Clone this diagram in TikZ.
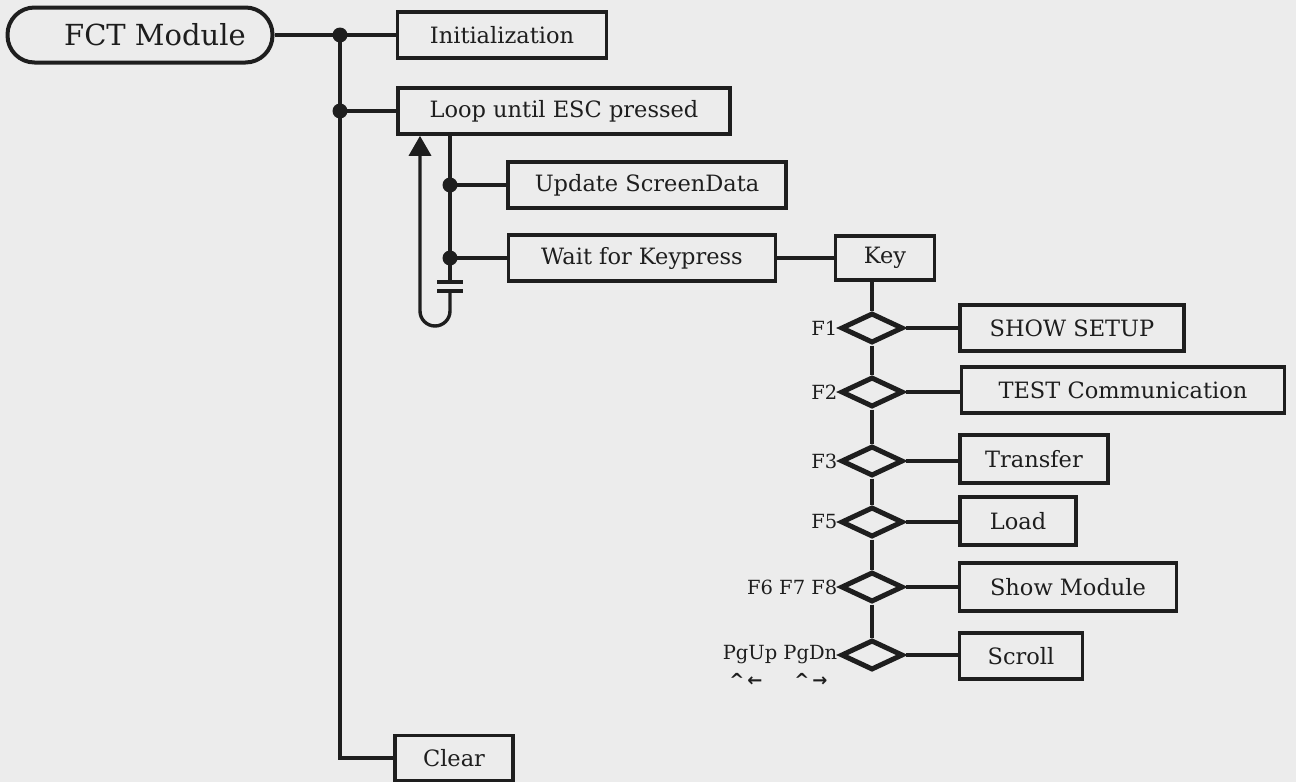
\documentclass[tikz,border=0pt]{standalone}
\usepackage{fontspec}
\setmainfont{DejaVu Serif}
\newfontfamily\symfnt{DejaVu Sans}
\usetikzlibrary{arrows.meta,shapes.geometric}
\definecolor{bgcol}{RGB}{236,236,236}
\definecolor{ink}{RGB}{30,30,30}
\begin{document}
\begin{tikzpicture}[x=1pt,y=-1pt,
  bx/.style={draw=ink,line width=3.6pt,inner sep=0pt,minimum height=46pt,text=ink,font=\fontsize{22.5}{26}\selectfont},
  dia/.style={draw=ink,diamond,line width=5pt,inner sep=0pt,minimum width=62pt,minimum height=30pt},
  ln/.style={draw=ink,line width=3.4pt},
  dot/.style={circle,fill=ink,inner sep=0pt,minimum size=15pt},
  flab/.style={anchor=east,inner sep=1pt,text=ink,font=\fontsize{19.5}{22}\selectfont}]
\fill[bgcol] (0,0) rectangle (1296,782);
\useasboundingbox (0,0) rectangle (1296,782);

% boxes
\node[bx,rounded corners=27pt,minimum width=265pt,minimum height=55pt,line width=4pt,font=\fontsize{29}{33}\selectfont] (fct) at (140,35) {\hspace*{30pt}FCT Module};
\node[bx,minimum width=209pt] (init) at (502,35) {Initialization};
\node[bx,minimum width=332pt] (loop) at (564,111) {Loop until ESC pressed};
\node[bx,minimum width=278pt] (upd) at (647,185) {Update ScreenData};
\node[bx,minimum width=267pt] (wait) at (642,258) {Wait for Keypress};
\node[bx,minimum width=99pt,minimum height=44pt] (key) at (885,258) {Key};

\node[dia] (d1) at (872,328) {};
\node[dia] (d2) at (872,392) {};
\node[dia] (d3) at (872,461) {};
\node[dia] (d4) at (872,522) {};
\node[dia] (d5) at (872,587) {};
\node[dia] (d6) at (872,655) {};

\node[bx,minimum width=224pt] (setup) at (1072,328) {SHOW SETUP};
\node[bx,minimum width=323pt] (test) at (1123,390) {TEST Communication};
\node[bx,minimum width=148pt,minimum height=48pt] (transfer) at (1034,459) {Transfer};
\node[bx,minimum width=116pt,minimum height=48pt] (load) at (1018,521) {Load};
\node[bx,minimum width=217pt,minimum height=48pt] (showm) at (1068,587) {Show Module};
\node[bx,minimum width=123pt] (scroll) at (1021,656) {Scroll};
\node[bx,minimum width=118pt,minimum height=45pt] (clear) at (454,758) {Clear};

% labels
\node[flab] (l1) at (d1.west) {F1};
\node[flab] (l2) at (d2.west) {F2};
\node[flab] (l3) at (d3.west) {F3};
\node[flab] (l4) at (d4.west) {F5};
\node[flab] (l5) at (d5.west) {F6 F7 F8};
\node[flab] (l6) at (d6.west) {PgUp PgDn};
\node[text=ink,font=\symfnt\bfseries\fontsize{18}{20}\selectfont,inner sep=0pt] (c1) at (746,680) {\textasciicircum\,←};
\node[text=ink,font=\symfnt\bfseries\fontsize{18}{20}\selectfont,inner sep=0pt] (c2) at (811,680) {\textasciicircum\,→};

% main spine
\node[dot] (p1) at (340,35) {};
\node[dot] (p2) at (340,111) {};
\draw[ln] (fct.east) -- (init.west);
\draw[ln] (p1.center) |- (clear.west);
\draw[ln] (p2.center) -- (loop.west);

% loop body
\node[dot] (q1) at (450,185) {};
\node[dot] (q2) at (450,258) {};
\coordinate (bar1) at (450,282);
\coordinate (bar2) at (450,291);
\draw[ln] (450,0 |- loop.south) -- (bar1);
\draw[ln] (437,282) -- (463,282);
\draw[ln] (437,291) -- (463,291);
\draw[ln] (q1.center) -- (upd.west);
\draw[ln] (q2.center) -- (wait.west);
\draw[ln,-{Triangle[width=22pt,length=20pt]}] (bar2) -- (450,311) arc[start angle=0,end angle=180,radius=15] -- (420,0 |- loop.south);

% key branches
\draw[ln] (wait.east) -- (key.west);
\draw[ln] (872,0 |- key.south) -- (d1.north);
\draw[ln] (d1.south) -- (d2.north);
\draw[ln] (d2.south) -- (d3.north);
\draw[ln] (d3.south) -- (d4.north);
\draw[ln] (d4.south) -- (d5.north);
\draw[ln] (d5.south) -- (d6.north);
\draw[ln] (d1.east) -- (d1.east -| setup.west);
\draw[ln] (d2.east) -- (d2.east -| test.west);
\draw[ln] (d3.east) -- (d3.east -| transfer.west);
\draw[ln] (d4.east) -- (d4.east -| load.west);
\draw[ln] (d5.east) -- (d5.east -| showm.west);
\draw[ln] (d6.east) -- (d6.east -| scroll.west);
\end{tikzpicture}
\end{document}
